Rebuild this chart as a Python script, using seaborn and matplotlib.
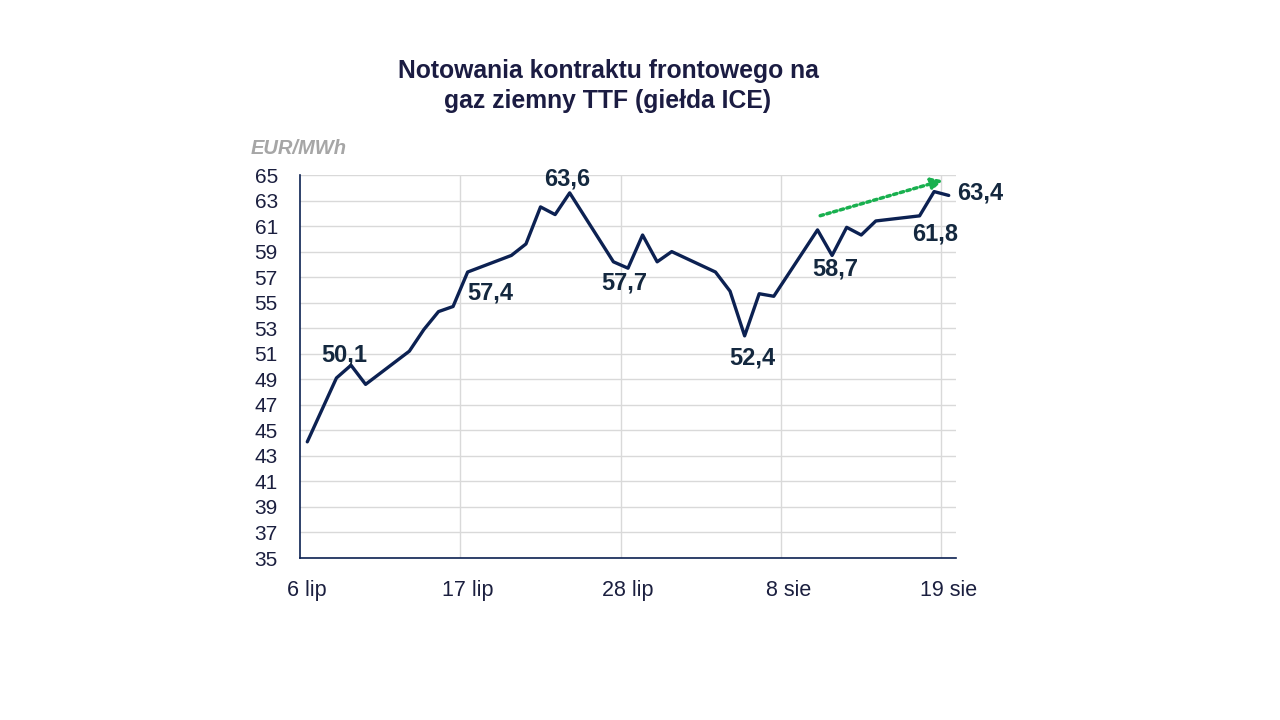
import matplotlib
matplotlib.use("Agg")
import matplotlib.pyplot as plt
import seaborn as sns
import pandas as pd
import numpy as np

# ---- data ----
dates = ["2026-07-06", "2026-07-07", "2026-07-08", "2026-07-09", "2026-07-10",
         "2026-07-13", "2026-07-14", "2026-07-15", "2026-07-16", "2026-07-17",
         "2026-07-20", "2026-07-21", "2026-07-22", "2026-07-23", "2026-07-24",
         "2026-07-27", "2026-07-28", "2026-07-29", "2026-07-30", "2026-07-31",
         "2026-08-03", "2026-08-04", "2026-08-05", "2026-08-06", "2026-08-07",
         "2026-08-10", "2026-08-11", "2026-08-12", "2026-08-13", "2026-08-14",
         "2026-08-17", "2026-08-18", "2026-08-19"]
prices = [44.1, 46.6, 49.1, 50.1, 48.6,
          51.2, 52.9, 54.3, 54.7, 57.4,
          58.7, 59.6, 62.5, 61.9, 63.6,
          58.2, 57.7, 60.3, 58.2, 59.0,
          57.4, 55.9, 52.4, 55.7, 55.5,
          60.7, 58.7, 60.9, 60.3, 61.4,
          61.8, 63.7, 63.4]

tick_dates = ["2026-07-06", "2026-07-17", "2026-07-28", "2026-08-08", "2026-08-19"]
tick_labels = ["6 lip", "17 lip", "28 lip", "8 sie", "19 sie"]
y_ticks = list(range(35, 66, 2))

# labelled points: date, label, pixel offset of label
label_dates = ["2026-07-09", "2026-07-17", "2026-07-24", "2026-07-28",
               "2026-08-05", "2026-08-11", "2026-08-17", "2026-08-19"]
label_offsets = [(-7, 10), (23, -21), (-3, 14), (-4, -15),
                 (8, -22), (3, -14), (16, -18), (31, 2)]

# trend arrow (start, end) in data coordinates
arrow_start = ("2026-08-10", 61.75)
arrow_end = ("2026-08-18 19:00", 64.65)

df = pd.DataFrame({"date": pd.to_datetime(dates), "price": prices})

NAVY = "#0c2152"
TXT = "#1b1f3f"
LBL = "#14283f"
GRID = "#d9d9d9"

sns.set_theme(style="white")
plt.rcParams["font.family"] = ["Liberation Sans", "DejaVu Sans"]

fig = plt.figure(figsize=(12.8, 7.2), dpi=100)
ax = fig.add_axes([300 / 1280, 1 - 558 / 720, 656 / 1280, 383 / 720])

sns.lineplot(data=df, x="date", y="price", ax=ax, color=NAVY, linewidth=2.4)

start = pd.Timestamp(dates[0]) - pd.Timedelta(hours=12)
end = pd.Timestamp(dates[-1]) + pd.Timedelta(hours=12)
ax.set_xlim(start, end)
ax.set_ylim(35, 65)

ax.set_xticks(pd.to_datetime(tick_dates))
ax.set_xticklabels(tick_labels)
grid_x = pd.to_datetime(tick_dates) - pd.Timedelta(hours=12)
for gx in grid_x[1:]:
    ax.axvline(gx, color=GRID, linewidth=1, zorder=0)
ax.set_yticks(y_ticks)
ax.yaxis.grid(True, color=GRID, linewidth=1)
ax.set_axisbelow(True)

ax.tick_params(axis="x", length=0, pad=16, labelsize=15.5, labelcolor=TXT)
ax.tick_params(axis="y", length=0, pad=16, labelsize=15, labelcolor=TXT)
ax.set_xlabel("")
ax.set_ylabel("")
for s in ["top", "right"]:
    ax.spines[s].set_visible(False)
for s in ["left", "bottom"]:
    ax.spines[s].set_color(NAVY)
    ax.spines[s].set_linewidth(1.2)

# data labels
for d, (dx, dy) in zip(label_dates, label_offsets):
    v = df.loc[df["date"] == pd.Timestamp(d), "price"].iloc[0]
    ax.annotate(f"{v:.1f}".replace(".", ","), xy=(pd.Timestamp(d), v),
                xytext=(dx, dy), textcoords="offset pixels",
                ha="center", va="center", fontsize=17, fontweight="bold",
                color=LBL)

# trend arrow
ax.annotate("", xy=(pd.Timestamp(arrow_end[0]), arrow_end[1]),
            xytext=(pd.Timestamp(arrow_start[0]), arrow_start[1]),
            arrowprops=dict(arrowstyle="-|>,head_length=0.55,head_width=0.28",
                            color="#19b04f", linewidth=2.5, linestyle=(0, (1, 1))),
            annotation_clip=False)

fig.text(608 / 1280, 1 - 86 / 720,
         "Notowania kontraktu frontowego na\ngaz ziemny TTF (giełda ICE)",
         ha="center", va="center", fontsize=17.8, fontweight="bold",
         color="#1b1c42", linespacing=1.32)
fig.text(251 / 1280, 1 - 148 / 720, "EUR/MWh", ha="left", va="center",
         fontsize=14.5, fontweight="bold", fontstyle="italic", color="#a6a6a6")

fig.savefig("out.png", dpi=100, facecolor="white")
